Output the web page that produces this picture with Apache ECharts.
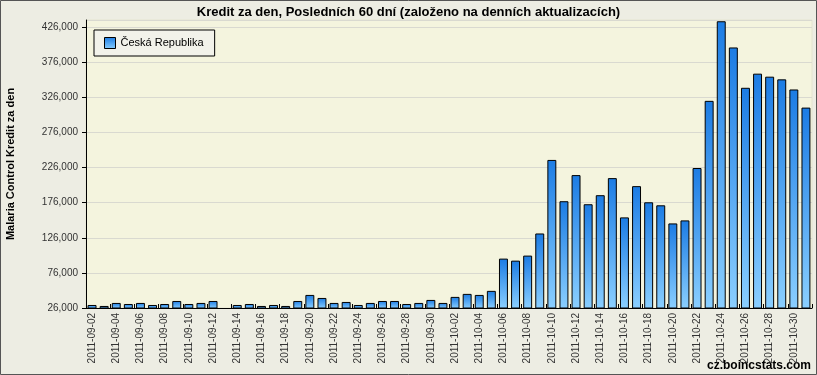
<!DOCTYPE html>
<html>
<head>
<meta charset="utf-8">
<script src="https://cdn.jsdelivr.net/npm/echarts@6/dist/echarts.min.js"></script>
<style>
html,body{margin:0;padding:0;background:#EDEDE3;}
#c{width:817px;height:375px;}
</style>
</head>
<body>
<div id="c"></div>
<script>
const titleText = "Kredit za den, Posledních 60 dní (založeno na denních aktualizacích)";
const yAxisName = "Malaria Control Kredit za den";
const seriesName = "Česká Republika";
const categories = [
  "2011-09-02","2011-09-03","2011-09-04","2011-09-05","2011-09-06","2011-09-07","2011-09-08","2011-09-09","2011-09-10","2011-09-11",
  "2011-09-12","2011-09-13","2011-09-14","2011-09-15","2011-09-16","2011-09-17","2011-09-18","2011-09-19","2011-09-20","2011-09-21",
  "2011-09-22","2011-09-23","2011-09-24","2011-09-25","2011-09-26","2011-09-27","2011-09-28","2011-09-29","2011-09-30","2011-10-01",
  "2011-10-02","2011-10-03","2011-10-04","2011-10-05","2011-10-06","2011-10-07","2011-10-08","2011-10-09","2011-10-10","2011-10-11",
  "2011-10-12","2011-10-13","2011-10-14","2011-10-15","2011-10-16","2011-10-17","2011-10-18","2011-10-19","2011-10-20","2011-10-21",
  "2011-10-22","2011-10-23","2011-10-24","2011-10-25","2011-10-26","2011-10-27","2011-10-28","2011-10-29","2011-10-30","2011-10-31"
];
const values = [
  30300, 28900, 33200, 31700, 33200, 30300, 31700, 36000, 31700, 33200,
  36000, null, 30300, 31700, 28900, 30300, 28900, 36000, 44600, 40300,
  33200, 34600, 30300, 33200, 36000, 36000, 31700, 33200, 37500, 33200,
  41800, 46100, 44600, 50400, 96300, 93400, 100600, 132100, 236800, 178000,
  215200, 173700, 186600, 210900, 155000, 199500, 176500, 172200, 146400, 150700,
  225300, 320900, 434200, 396900, 339500, 359600, 355300, 351500, 337100, 311300
];
const yMin = 26000, yMax = 436000, yStep = 50000;
const FONT = "Liberation Sans, Arial, sans-serif";

const chart = echarts.init(document.getElementById('c'), null, {renderer:'canvas'});
const barGrad = new echarts.graphic.LinearGradient(0,0,0,1,[
  {offset:0,color:'#1C7CE4'},{offset:1,color:'#8ACFFF'}
]);
chart.setOption({
  backgroundColor:'#EDEDE3',
  animation:false,
  textStyle:{fontFamily:FONT},
  title:{
    text:titleText, left:'center', top:1,
    textStyle:{fontFamily:FONT,fontSize:13,fontWeight:'bold',color:'#000'}
  },
  legend:{
    left:94, top:30, orient:'vertical',
    backgroundColor:'#F2F2EA', borderColor:'#000', borderWidth:1, borderRadius:0,
    padding:[7,11,7,10], itemWidth:11, itemHeight:11, itemGap:4,
    textStyle:{fontFamily:FONT,fontSize:11,color:'#000'},
    data:[{name:seriesName,icon:'rect',itemStyle:{color:barGrad,borderColor:'#000',borderWidth:1}}]
  },
  grid:{left:86,right:5,top:20,bottom:67,outerBoundsMode:'none',containLabel:false,show:true,backgroundColor:'#F4F4DE',borderColor:'#E4E4D0',borderWidth:1},
  xAxis:{
    type:'category', data:categories,
    axisLine:{lineStyle:{color:'#000',width:1}},
    axisTick:{show:true,inside:true,interval:1,length:4,lineStyle:{color:'#000'}},
    axisLabel:{interval:1,rotate:90,fontSize:10,color:'#333',fontFamily:FONT,margin:5}
  },
  yAxis:{
    type:'value', min:yMin, max:yMax, interval:yStep,
    name:yAxisName, nameLocation:'middle', nameRotate:90, nameGap:70,
    nameTextStyle:{fontFamily:FONT,fontSize:11,fontWeight:'bold',color:'#000'},
    axisLine:{show:true,lineStyle:{color:'#000',width:1}},
    axisTick:{show:true,length:4,lineStyle:{color:'#000'}},
    axisLabel:{fontSize:10,color:'#333',fontFamily:FONT,margin:8,showMaxLabel:false,
      formatter:v=> (v-yMin)%yStep===0 ? v.toLocaleString('en-US') : ''},
    splitLine:{lineStyle:{color:'#D9D9D0',width:1}}
  },
  series:[{
    name:seriesName, type:'bar', data:values, barCategoryGap:'26%',
    itemStyle:{color:barGrad,borderColor:'#000',borderWidth:1}
  }],
  graphic:[
    {type:'text',right:6,bottom:3,style:{text:'cz.boincstats.com',fontFamily:FONT,fontSize:12,fontWeight:'bold',fill:'#000'}},
    {type:'rect',shape:{x:0.5,y:0.5,width:816,height:374},style:{fill:'none',stroke:'#555',lineWidth:1},silent:true}
  ]
});
</script>
</body>
</html>
